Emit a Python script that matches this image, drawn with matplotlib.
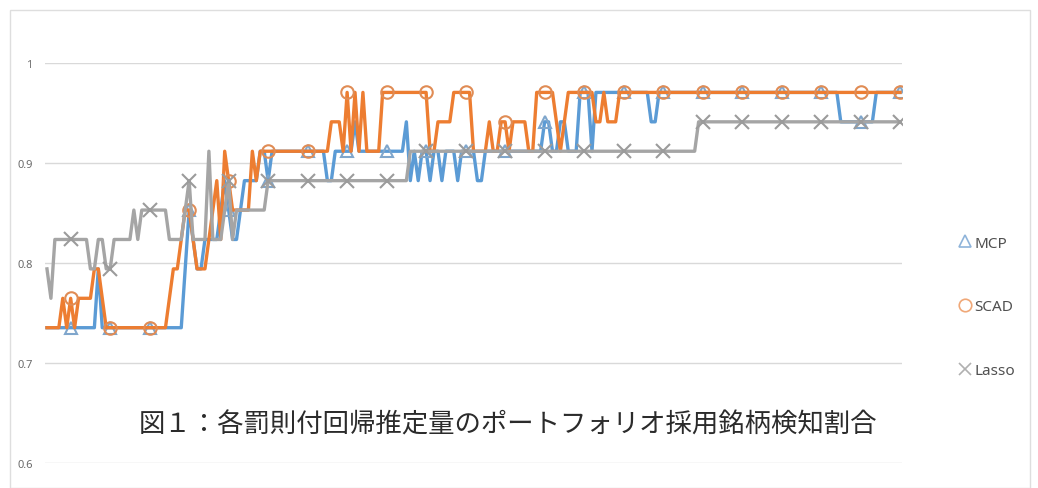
import matplotlib
matplotlib.use("Agg")
import matplotlib.pyplot as plt
import numpy as np
from matplotlib.lines import Line2D
from matplotlib.patches import Rectangle

# number of stocks in the portfolio; each series counts how many were detected
N_STOCKS = 34

mcp_hits = [
    25, 25, 25, 25, 25, 25, 25, 25, 25, 25,
    25, 25, 25, 27, 25, 25, 25, 25, 25, 25,
    25, 25, 25, 25, 25, 25, 25, 25, 25, 25,
    25, 25, 25, 25, 25, 27, 29, 28, 27, 27,
    28, 28, 28, 28, 29, 30, 29, 28, 28, 29,
    30, 30, 30, 30, 31, 31, 30, 31, 31, 31,
    31, 31, 31, 31, 31, 31, 31, 31, 31, 31,
    31, 30, 30, 31, 31, 31, 31, 31, 32, 31,
    31, 31, 31, 31, 31, 31, 31, 31, 31, 31,
    31, 32, 30, 31, 30, 31, 31, 30, 31, 31,
    30, 31, 31, 31, 30, 31, 31, 31, 31, 30,
    30, 31, 31, 31, 31, 31, 31, 31, 31, 31,
    31, 31, 31, 31, 31, 31, 32, 32, 31, 31,
    32, 32, 31, 31, 31, 33, 33, 33, 31, 33,
    33, 33, 33, 33, 33, 33, 33, 33, 33, 33,
    33, 33, 33, 32, 32, 33, 33, 33, 33, 33,
    33, 33, 33, 33, 33, 33, 33, 33, 33, 33,
    33, 33, 33, 33, 33, 33, 33, 33, 33, 33,
    33, 33, 33, 33, 33, 33, 33, 33, 33, 33,
    33, 33, 33, 33, 33, 33, 33, 33, 33, 33,
    33, 32, 32, 32, 32, 32, 32, 32, 32, 32,
    33, 33, 33, 33, 33, 33, 33,
]

scad_hits = [
    25, 25, 25, 25, 26, 25, 26, 25, 26, 26,
    26, 26, 27, 27, 26, 25, 25, 25, 25, 25,
    25, 25, 25, 25, 25, 25, 25, 25, 25, 25,
    25, 26, 27, 27, 28, 29, 29, 28, 27, 27,
    27, 28, 29, 30, 28, 31, 30, 29, 29, 29,
    29, 29, 31, 30, 31, 31, 31, 31, 31, 31,
    31, 31, 31, 31, 31, 31, 31, 31, 31, 31,
    31, 31, 32, 32, 32, 31, 33, 31, 33, 31,
    33, 31, 31, 31, 31, 33, 33, 33, 33, 33,
    33, 33, 33, 33, 33, 33, 33, 31, 31, 32,
    32, 32, 32, 33, 33, 33, 33, 33, 31, 31,
    31, 31, 32, 31, 31, 32, 32, 31, 32, 32,
    32, 32, 31, 31, 33, 33, 33, 33, 33, 32,
    31, 32, 33, 33, 33, 33, 33, 33, 33, 32,
    32, 33, 32, 32, 32, 33, 33, 33, 33, 33,
    33, 33, 33, 33, 33, 33, 33, 33, 33, 33,
    33, 33, 33, 33, 33, 33, 33, 33, 33, 33,
    33, 33, 33, 33, 33, 33, 33, 33, 33, 33,
    33, 33, 33, 33, 33, 33, 33, 33, 33, 33,
    33, 33, 33, 33, 33, 33, 33, 33, 33, 33,
    33, 33, 33, 33, 33, 33, 33, 33, 33, 33,
    33, 33, 33, 33, 33, 33, 33,
]

lasso_hits = [
    27, 26, 28, 28, 28, 28, 28, 28, 28, 28,
    28, 27, 27, 28, 28, 27, 27, 28, 28, 28,
    28, 28, 29, 28, 29, 29, 29, 29, 29, 29,
    29, 28, 28, 28, 28, 29, 30, 28, 28, 28,
    28, 31, 28, 28, 28, 29, 30, 28, 29, 29,
    29, 29, 29, 29, 29, 29, 30, 30, 30, 30,
    30, 30, 30, 30, 30, 30, 30, 30, 30, 30,
    30, 30, 30, 30, 30, 30, 30, 30, 30, 30,
    30, 30, 30, 30, 30, 30, 30, 30, 30, 30,
    30, 30, 31, 31, 31, 31, 31, 31, 31, 31,
    31, 31, 31, 31, 31, 31, 31, 31, 31, 31,
    31, 31, 31, 31, 31, 31, 31, 31, 31, 31,
    31, 31, 31, 31, 31, 31, 31, 31, 31, 31,
    31, 31, 31, 31, 31, 31, 31, 31, 31, 31,
    31, 31, 31, 31, 31, 31, 31, 31, 31, 31,
    31, 31, 31, 31, 31, 31, 31, 31, 31, 31,
    31, 31, 31, 31, 31, 32, 32, 32, 32, 32,
    32, 32, 32, 32, 32, 32, 32, 32, 32, 32,
    32, 32, 32, 32, 32, 32, 32, 32, 32, 32,
    32, 32, 32, 32, 32, 32, 32, 32, 32, 32,
    32, 32, 32, 32, 32, 32, 32, 32, 32, 32,
    32, 32, 32, 32, 32, 32, 32,
]

labels = ["MCP", "SCAD", "Lasso"]
y_ticks = [0.6, 0.7, 0.8, 0.9, 1.0]
y_tick_labels = ["0.6", "0.7", "0.8", "0.9", "1"]
title = "図１：各罰則付回帰推定量のポートフォリオ採用銘柄検知割合"

mcp = np.array(mcp_hits) / N_STOCKS
scad = np.array(scad_hits) / N_STOCKS
lasso = np.array(lasso_hits) / N_STOCKS
x = np.arange(len(mcp))

colors = ["#5b9bd5", "#ed7d31", "#a5a5a5"]
marker_edges = ["#7fa6cc", "#e08c55", "#9b9b9b"]
markers = ["^", "o", "x"]

fig = plt.figure(figsize=(10.38, 4.89), dpi=100)
W, H = 1038, 489

# thin chart border
fig.patches.append(Rectangle((10 / W, 0), 1020 / W, 1 - 11 / H, transform=fig.transFigure,
                             fill=False, edgecolor="#dedede", linewidth=1))

ax = fig.add_axes([45 / W, 25 / H, 857 / W, 400 / H])
for s, c, mec, m in zip([mcp, scad, lasso], colors, marker_edges, markers):
    ax.plot(x, s, color=c, linewidth=2.4, solid_joinstyle="round",
            marker=m, markevery=(6, 10), markersize=9 if m != "x" else 10,
            markerfacecolor="none", markeredgecolor=mec, markeredgewidth=1.5)

ax.set_xlim(-0.5, len(mcp) - 0.5)
ax.set_ylim(0.6, 1.0)
ax.set_yticks(y_ticks)
ax.set_yticklabels(y_tick_labels)
ax.set_xticks([])
ax.grid(axis="y", color="#d9d9d9", linewidth=1)
ax.set_axisbelow(True)
for sp in ax.spines.values():
    sp.set_visible(False)
ax.tick_params(axis="y", length=0, pad=9, labelsize=8, labelcolor="#6b6b6b")
for t in ax.get_yticklabels():
    t.set_fontfamily("Noto Sans")

fig.text(508 / W, 1 - 425 / H, title, ha="center", va="center", fontsize=19,
         family=["Noto Sans CJK JP", "DejaVu Sans"], color="#2b2b2b")

handles = [Line2D([], [], linestyle="none", marker=m, markersize=9,
                  markerfacecolor="none", markeredgecolor=c, markeredgewidth=1.2)
           for m, c in zip(markers, ["#8fb4da", "#f0a878", "#b0b0b0"])]
leg = fig.legend(handles, labels, loc="center left", bbox_to_anchor=(944 / W, 1 - 308 / H),
                 frameon=False, labelspacing=3.2, handlelength=0.9,
                 handletextpad=0.2, prop={"family": "Noto Sans", "size": 11})
for t in leg.get_texts():
    t.set_color("#505050")

fig.savefig("out.png", dpi=100)
